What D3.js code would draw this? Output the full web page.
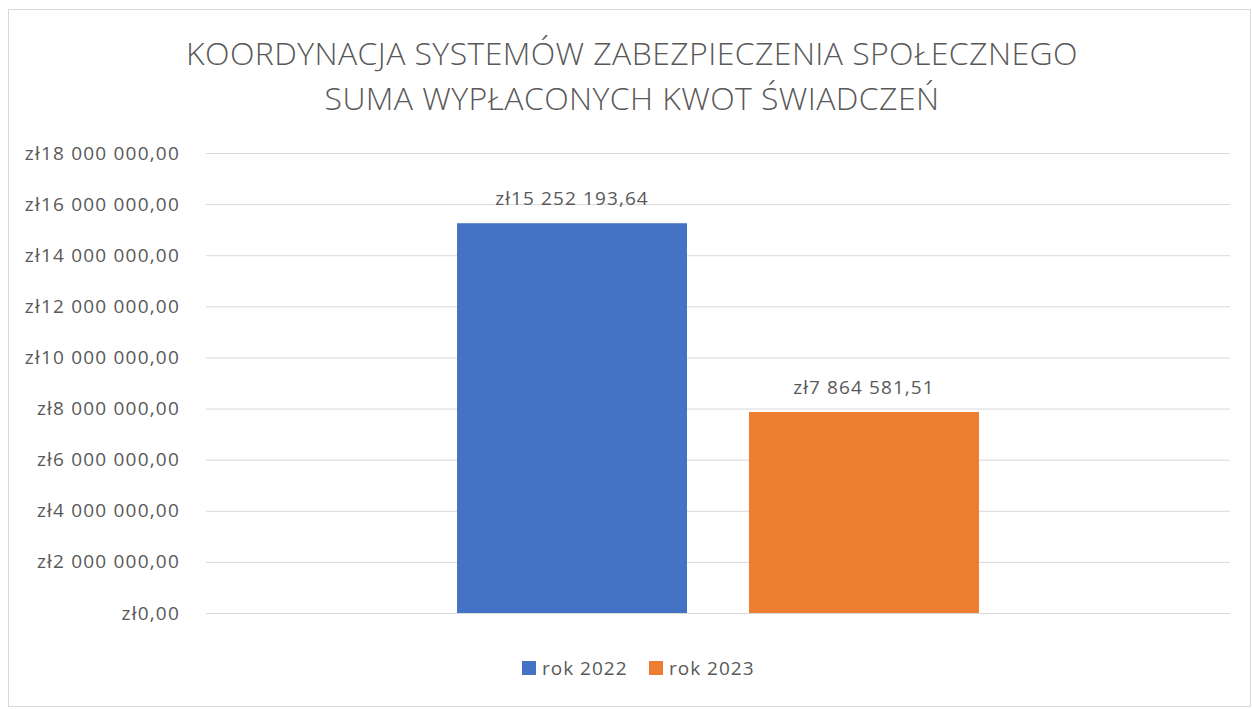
<!DOCTYPE html>
<html>
<head>
<meta charset="utf-8">
<script src="https://cdn.jsdelivr.net/npm/d3@7"></script>
<style>
  body { margin: 0; background: #fff; }
  text { font-family: "Open Sans", sans-serif; fill: #595959; }
</style>
</head>
<body>
<div class="chart"></div>
<script>
var titleLines = ["KOORDYNACJA SYSTEMÓW ZABEZPIECZENIA SPOŁECZNEGO", "SUMA WYPŁACONYCH KWOT ŚWIADCZEŃ"];
var categories = [""];
var seriesNames = ["rok 2022", "rok 2023"];
var seriesValues = [15252193.64, 7864581.51];
var seriesColors = ["#4472C4", "#ED7D31"];
var yTicks = [0, 2000000, 4000000, 6000000, 8000000, 10000000, 12000000, 14000000, 16000000, 18000000];

var svgWidth = 1252;
var svgHeight = 709;

var margin = {
  top: 153,
  bottom: 96,
  right: 22,
  left: 206,
};

var height = svgHeight - margin.top - margin.bottom;
var width = svgWidth - margin.left - margin.right;

function money(v) {
  var parts = v.toFixed(2).split(".");
  var intPart = parts[0].replace(/\B(?=(\d{3})+(?!\d))/g, " ");
  return "zł" + intPart + "," + parts[1];
}

var svg = d3
  .select(".chart")
  .append("svg")
  .attr("width", svgWidth)
  .attr("height", svgHeight);

// chart area border
svg
  .append("rect")
  .attr("x", 8.5)
  .attr("y", 9.5)
  .attr("width", 1242)
  .attr("height", 697)
  .attr("fill", "none")
  .attr("stroke", "#D9D9D9")
  .attr("stroke-width", 1);

svg
  .selectAll(".title")
  .data(titleLines)
  .join("text")
  .attr("class", "title")
  .attr("x", 632)
  .attr("y", (d, i) => 65 + i * 45)
  .attr("text-anchor", "middle")
  .style("font-size", "32px")
  .style("font-weight", 300)
  .style("letter-spacing", "0.4px")
  .text((d) => d);

var chartGroup = svg
  .append("g")
  .attr("transform", `translate(${margin.left}, ${margin.top})`);

var y = d3.scaleLinear().domain([0, 18000000]).range([height, 0]);

var x = d3
  .scaleBand()
  .domain(categories)
  .range([0, width])
  .paddingInner(0)
  .paddingOuter(0.481);

var xSub = d3
  .scaleBand()
  .domain(seriesNames)
  .range([0, x.bandwidth()])
  .paddingInner(0.2123)
  .paddingOuter(0);

// gridlines + tick labels
var yAxis = chartGroup
  .append("g")
  .attr("class", "y-axis")
  .call(
    d3.axisLeft(y)
      .tickValues(yTicks)
      .tickSize(-width)
      .tickPadding(26)
      .tickFormat(money)
  );
yAxis.select(".domain").remove();
yAxis.selectAll("line").attr("stroke", "#D9D9D9").attr("stroke-width", 1);
yAxis
  .selectAll("text")
  .style("font-size", "19px")
  .style("letter-spacing", "1.2px")
  .style("font-family", "'Open Sans', sans-serif")
  .attr("fill", "#595959");

var bars = seriesNames.map((s, i) => ({ name: s, value: seriesValues[i], color: seriesColors[i] }));

var group = chartGroup
  .append("g")
  .attr("transform", `translate(${x(categories[0])}, 0)`);

group
  .selectAll("rect")
  .data(bars)
  .join("rect")
  .attr("x", (d) => xSub(d.name))
  .attr("y", (d) => y(d.value))
  .attr("width", xSub.bandwidth())
  .attr("height", (d) => y(0) - y(d.value))
  .attr("fill", (d) => d.color);

group
  .selectAll(".label")
  .data(bars)
  .join("text")
  .attr("class", "label")
  .attr("x", (d) => xSub(d.name) + xSub.bandwidth() / 2)
  .attr("y", (d) => y(d.value) - 18)
  .attr("text-anchor", "middle")
  .style("font-size", "19px")
  .style("letter-spacing", "1.1px")
  .text((d) => money(d.value));

// redraw baseline over bars
chartGroup
  .append("line")
  .attr("x1", 0)
  .attr("x2", width)
  .attr("y1", y(0) + 0.5)
  .attr("y2", y(0) + 0.5)
  .attr("stroke", "#D9D9D9");

// legend
var legendX = [522, 649];
var legend = svg
  .selectAll(".legend")
  .data(bars)
  .join("g")
  .attr("class", "legend")
  .attr("transform", (d, i) => `translate(${legendX[i]}, 661)`);

legend
  .append("rect")
  .attr("width", 14)
  .attr("height", 14)
  .attr("fill", (d) => d.color);

legend
  .append("text")
  .attr("x", 20)
  .attr("y", 14)
  .style("font-size", "19px")
  .style("letter-spacing", "1px")
  .text((d) => d.name);
</script>
</body>
</html>
